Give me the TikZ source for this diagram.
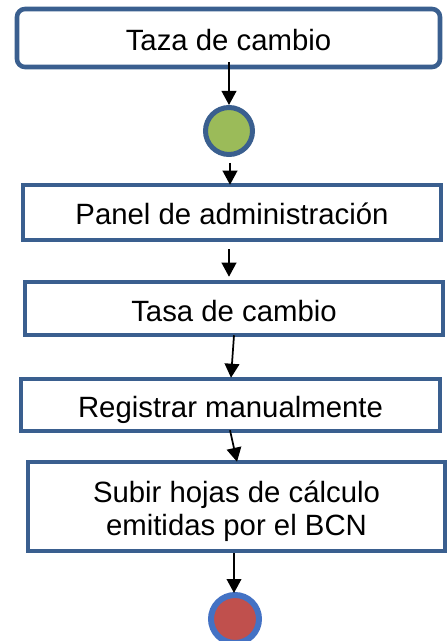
\documentclass[tikz,border=0pt]{standalone}
\usepackage{fontspec}
\setmainfont{Liberation Sans}
\usetikzlibrary{arrows.meta,calc}
\definecolor{boxblue}{HTML}{3A5F8F}
\definecolor{ringblue}{HTML}{4472C4}
\definecolor{startgreen}{HTML}{9BBB59}
\definecolor{endred}{HTML}{C0504D}
\begin{document}
\begin{tikzpicture}[x=0.75pt,y=-0.75pt,
  stepbox/.style={draw=boxblue, line width=3.4pt, fill=white, inner sep=0pt,
    font=\fontsize{22}{24.75}\selectfont, text height=18.75pt, text depth=0pt, align=center},
  startdot/.style={circle, draw=boxblue, fill=startgreen, line width=3.75pt, minimum size=35.25pt, inner sep=0pt},
  enddot/.style={circle, draw=ringblue, fill=endred, line width=4.5pt, minimum size=36pt, inner sep=0pt},
  flow/.style={draw=black, line width=1.3pt, -{Triangle[width=11pt,length=10.5pt]}}]
\useasboundingbox (0,0) rectangle (446,641);
\node[stepbox, rounded corners=6pt, minimum width=317.25pt, minimum height=43.5pt] (b1) at (228.5,38) {Taza de cambio};
\node[startdot] (c1) at (229,131) {};
\node[stepbox, minimum width=313.5pt, minimum height=41.25pt] (b2) at (232,212.5) {Panel de administración};
\node[stepbox, minimum width=313.5pt, minimum height=39.75pt] (b3) at (234,308.5) {Tasa de cambio};
\node[stepbox, minimum width=314.25pt, minimum height=39pt] (b4) at (230.5,405) {Registrar manualmente};
\node[stepbox, text height=43.5pt, minimum width=312.75pt, minimum height=66.75pt] (b5) at (236.5,506.5) {Subir hojas de cálculo\\emitidas por el BCN};
\node[enddot] (c2) at (235,619) {};
\draw[flow] ($(b1.south)+(0.5,-7)$) -- (c1.north);
\draw[flow] ($(c1.south)+(1,6)$) -- ($(b2.north)+(-2,2)$);
\draw[flow] ($(b2.south)+(-3,7)$) -- ($(b3.north)+(-5,-3)$);
\draw[flow] ($(b3.south)+(0,-2)$) -- ($(b4.north)+(0.5,1)$);
\draw[flow] ($(b4.south)+(-0.5,-3)$) -- ($(b5.north)+(0.5,2)$);
\draw[flow] ($(b5.south)+(-2.5,0)$) -- ($(c2.north)+(-1,1)$);
\end{tikzpicture}
\end{document}
